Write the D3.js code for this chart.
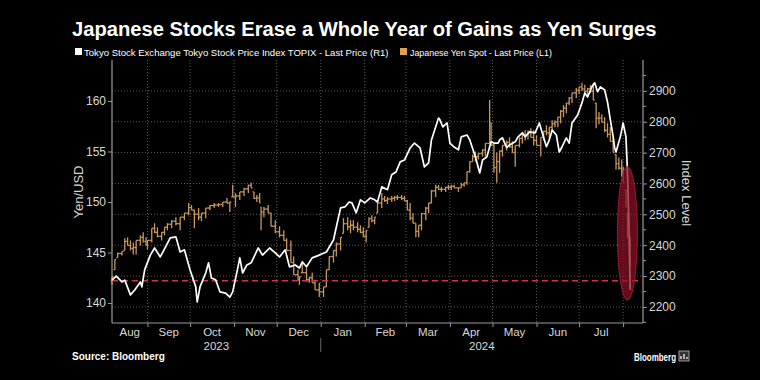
<!DOCTYPE html>
<html><head><meta charset="utf-8">
<script src="https://cdn.jsdelivr.net/npm/d3@7"></script>
<style>html,body{margin:0;padding:0;background:#000;}svg{display:block;}</style>
</head><body>
<svg id="c" width="760" height="380"></svg>
<script>
// ---------- DATA ----------
const titleText = "Japanese Stocks Erase a Whole Year of Gains as Yen Surges";
const legendLabels = ["Tokyo Stock Exchange Tokyo Stock Price Index TOPIX - Last Price (R1)", "Japanese Yen Spot - Last Price (L1)"];
const leftTicks = [140, 145, 150, 155, 160];
const rightTicks = [2200, 2300, 2400, 2500, 2600, 2700, 2800, 2900];
const monthLabels = ["Aug","Sep","Oct","Nov","Dec","Jan","Feb","Mar","Apr","May","Jun","Jul"];
const yearLabels = ["2023","2024"];
const xDomain = ["2023-08-07","2024-08-15"];
const referenceLevel = 2285; // TOPIX level a year earlier (dashed line)
const highlight = {date:"2024-08-04", low:2222, high:2655};

// TOPIX (right axis): [date, close]
const topix = [
["2023-08-07",2287],["2023-08-10",2300],["2023-08-14",2281],["2023-08-16",2287],["2023-08-20",2239],["2023-08-23",2255],
["2023-08-27",2281],["2023-08-28",2265],["2023-08-30",2320],["2023-09-03",2368],["2023-09-06",2391],["2023-09-10",2362],
["2023-09-13",2388],["2023-09-17",2424],["2023-09-21",2427],["2023-09-24",2378],["2023-09-27",2385],["2023-10-01",2320],
["2023-10-05",2265],["2023-10-06",2216],["2023-10-08",2265],["2023-10-12",2310],["2023-10-14",2343],["2023-10-16",2294],
["2023-10-19",2288],["2023-10-22",2249],["2023-10-26",2245],["2023-10-29",2232],["2023-10-31",2249],["2023-11-03",2313],
["2023-11-05",2359],["2023-11-07",2310],["2023-11-10",2336],["2023-11-13",2343],["2023-11-18",2391],["2023-11-21",2368],
["2023-11-26",2391],["2023-11-30",2375],["2023-12-03",2362],["2023-12-07",2385],["2023-12-10",2330],["2023-12-14",2336],
["2023-12-17",2326],["2023-12-19",2346],["2023-12-22",2330],["2023-12-26",2359],["2023-12-31",2368],["2024-01-05",2378],
["2024-01-10",2417],["2024-01-12",2459],["2024-01-15",2521],["2024-01-18",2524],["2024-01-21",2540],["2024-01-23",2537],
["2024-01-26",2505],["2024-01-29",2547],["2024-02-01",2537],["2024-02-05",2553],["2024-02-08",2547],["2024-02-10",2540],
["2024-02-13",2589],["2024-02-17",2580],["2024-02-20",2628],["2024-02-23",2637],["2024-02-26",2670],["2024-02-29",2676],
["2024-03-04",2715],["2024-03-07",2731],["2024-03-11",2715],["2024-03-14",2654],["2024-03-17",2667],["2024-03-19",2741],
["2024-03-24",2812],["2024-03-25",2806],["2024-03-27",2783],["2024-03-30",2796],["2024-04-01",2731],["2024-04-04",2718],
["2024-04-07",2709],["2024-04-09",2751],["2024-04-13",2757],["2024-04-15",2741],["2024-04-19",2686],["2024-04-22",2634],
["2024-04-24",2676],["2024-04-27",2686],["2024-04-30",2735],["2024-05-02",2731],["2024-05-05",2731],["2024-05-06",2741],
["2024-05-08",2748],["2024-05-11",2716],["2024-05-13",2725],["2024-05-17",2735],["2024-05-19",2751],["2024-05-22",2764],
["2024-05-24",2751],["2024-05-27",2767],["2024-05-31",2764],["2024-06-03",2796],["2024-06-05",2764],["2024-06-08",2719],
["2024-06-10",2741],["2024-06-12",2773],["2024-06-15",2757],["2024-06-17",2702],["2024-06-19",2719],["2024-06-22",2748],
["2024-06-24",2731],["2024-06-26",2796],["2024-06-30",2822],["2024-07-03",2861],["2024-07-05",2893],["2024-07-07",2880],
["2024-07-10",2913],["2024-07-12",2926],["2024-07-14",2897],["2024-07-16",2913],["2024-07-19",2903],["2024-07-21",2864],
["2024-07-23",2806],["2024-07-25",2751],["2024-07-26",2716],["2024-07-27",2702],["2024-07-30",2751],["2024-07-31",2773],
["2024-08-01",2796],["2024-08-03",2751],["2024-08-04",2644],["2024-08-05",2482],["2024-08-06",2255]
];

// USD/JPY (left axis): [date, low, high]
const yen = [
["2023-08-07",141.8,142.6],["2023-08-09",143.3,144.3],["2023-08-11",144.5,145.0],["2023-08-14",144.7,145.1],
["2023-08-16",145.2,146.4],["2023-08-18",145.7,146.5],["2023-08-20",145.2,146.2],["2023-08-22",144.8,146.0],
["2023-08-24",144.8,146.2],["2023-08-27",145.7,146.7],["2023-08-29",146.0,147.0],["2023-08-31",145.7,146.5],
["2023-09-01",145.3,146.2],["2023-09-04",146.0,147.4],["2023-09-06",146.9,147.9],["2023-09-08",146.5,147.5],
["2023-09-11",146.2,147.0],["2023-09-13",146.7,147.5],["2023-09-15",147.2,147.9],["2023-09-18",147.4,148.2],
["2023-09-21",147.7,148.5],["2023-09-24",147.2,148.5],["2023-09-27",148.2,148.9],["2023-09-30",148.7,149.9],
["2023-10-02",149.2,149.7],["2023-10-04",147.4,149.2],["2023-10-07",148.2,149.4],["2023-10-09",148.1,148.9],
["2023-10-12",148.4,149.4],["2023-10-15",149.2,149.7],["2023-10-18",149.4,149.9],["2023-10-21",149.5,149.9],
["2023-10-24",149.5,150.0],["2023-10-27",149.9,150.4],["2023-10-29",149.0,150.0],["2023-10-31",150.5,151.7],
["2023-11-02",149.5,150.9],["2023-11-05",150.2,151.0],["2023-11-08",150.6,151.4],["2023-11-11",150.9,151.7],
["2023-11-13",151.4,151.9],["2023-11-15",150.3,151.0],["2023-11-17",150.0,150.7],["2023-11-19",149.9,150.9],
["2023-11-20",147.2,149.5],["2023-11-22",148.5,149.5],["2023-11-25",148.9,149.7],["2023-11-27",147.6,148.9],
["2023-11-30",146.9,148.2],["2023-12-03",146.5,147.6],["2023-12-06",146.2,147.2],["2023-12-08",145.2,146.4],
["2023-12-11",144.0,146.2],["2023-12-13",142.8,144.6],["2023-12-16",142.3,143.3],["2023-12-17",141.8,142.6],
["2023-12-19",143.0,144.0],["2023-12-22",142.1,143.5],["2023-12-24",142.0,142.6],["2023-12-26",142.0,143.0],
["2023-12-28",141.3,142.3],["2023-12-31",140.6,142.0],["2024-01-03",140.6,141.6],["2024-01-05",141.6,143.3],
["2024-01-07",143.3,144.6],["2024-01-10",144.0,145.2],["2024-01-12",144.6,146.0],["2024-01-15",145.2,146.5],
["2024-01-17",146.9,148.4],["2024-01-20",147.2,148.5],["2024-01-22",146.9,148.2],["2024-01-24",147.2,148.2],
["2024-01-27",147.0,148.0],["2024-01-29",146.9,147.7],["2024-01-31",146.5,147.5],["2024-02-02",146.0,147.2],
["2024-02-04",147.5,148.5],["2024-02-06",148.0,148.7],["2024-02-08",147.8,148.5],["2024-02-10",148.9,149.9],
["2024-02-13",149.4,150.9],["2024-02-15",150.0,150.6],["2024-02-17",149.8,150.5],["2024-02-20",150.0,150.6],
["2024-02-22",150.1,150.6],["2024-02-24",150.2,150.7],["2024-02-27",150.2,150.7],["2024-02-29",150.1,150.6],
["2024-03-02",149.2,150.2],["2024-03-04",148.2,149.9],["2024-03-06",147.9,148.9],["2024-03-08",146.5,147.9],
["2024-03-10",146.5,147.7],["2024-03-12",147.2,148.9],["2024-03-15",148.2,149.5],["2024-03-17",148.9,149.9],
["2024-03-19",149.9,151.2],["2024-03-22",150.5,151.7],["2024-03-24",151.2,151.7],["2024-03-26",151.0,151.5],
["2024-03-29",151.0,151.5],["2024-03-31",151.2,151.7],["2024-04-02",151.2,151.7],["2024-04-04",151.4,151.7],
["2024-04-07",151.0,151.4],["2024-04-09",151.4,151.9],["2024-04-11",151.5,151.9],["2024-04-13",151.7,153.0],
["2024-04-15",152.9,154.0],["2024-04-17",154.0,154.7],["2024-04-19",154.0,155.0],["2024-04-21",154.2,154.8],
["2024-04-24",154.5,155.2],["2024-04-26",154.5,155.8],["2024-04-29",155.8,160.1],["2024-04-30",155.6,157.9],
["2024-05-02",152.9,155.8],["2024-05-04",151.9,154.9],["2024-05-06",152.9,155.1],["2024-05-08",154.5,155.6],
["2024-05-11",155.1,156.1],["2024-05-13",155.4,156.4],["2024-05-15",154.9,156.0],["2024-05-17",153.5,155.6],
["2024-05-20",155.4,156.4],["2024-05-22",155.8,156.8],["2024-05-24",156.1,157.1],["2024-05-26",156.2,157.1],
["2024-05-28",156.4,157.3],["2024-05-30",155.6,157.1],["2024-06-01",155.6,156.6],["2024-06-04",154.5,156.4],
["2024-06-06",156.1,157.0],["2024-06-08",156.6,157.6],["2024-06-10",156.3,157.4],["2024-06-12",157.0,158.1],
["2024-06-14",157.4,158.1],["2024-06-16",157.4,158.4],["2024-06-18",157.8,159.1],["2024-06-20",158.4,159.6],
["2024-06-22",158.8,159.8],["2024-06-24",159.6,160.4],["2024-06-26",159.8,160.8],["2024-06-29",160.3,161.3],
["2024-07-01",160.7,161.4],["2024-07-03",161.0,161.8],["2024-07-05",160.8,161.6],["2024-07-07",160.6,161.3],
["2024-07-09",160.8,161.6],["2024-07-11",160.1,161.8],["2024-07-13",157.3,159.8],["2024-07-15",157.7,158.9],
["2024-07-17",157.9,158.7],["2024-07-19",156.9,158.4],["2024-07-21",156.4,157.8],["2024-07-23",156.0,157.4],
["2024-07-25",154.9,156.4],["2024-07-27",153.2,154.7],["2024-07-29",153.2,154.4],["2024-07-31",152.5,154.2],
["2024-08-01",152.0,153.5],["2024-08-03",149.5,151.2],["2024-08-04",146.5,148.9],["2024-08-06",143.8,146.6]
];

// ---------- CHART ----------
const parse = d3.utcParse("%Y-%m-%d");
const W = 760, H = 380;
const m = {left:112, right:643, top:60, bottom:323};
const svg = d3.select("#c");
svg.append("rect").attr("width",W).attr("height",H).attr("fill","#000");

const x = d3.scaleUtc().domain(xDomain.map(parse)).range([m.left, m.right]);
const yL = d3.scaleLinear().domain([138.02, 164.06]).range([m.bottom, m.top]);
const yR = d3.scaleLinear().domain([2148, 3000]).range([m.bottom, m.top]);

const font = "'Liberation Sans', Arial, sans-serif";
const axisCol = "#9a9a9a", textCol = "#d8d8d8";

function fit(sel, w){
  const n = sel.node(); const L = n.getComputedTextLength();
  if (L > 0) { const fs = parseFloat(sel.attr("font-size")); sel.attr("font-size", fs * w / L); }
}

// title
const title = svg.append("text").attr("x",72).attr("y",36).attr("fill","#fff")
  .attr("font-family",font).attr("font-weight","bold").attr("font-size",21).text(titleText);
fit(title, 585);

// legend
svg.append("rect").attr("x",75).attr("y",48).attr("width",7).attr("height",7).attr("fill","#fff");
const l1 = svg.append("text").attr("x",84).attr("y",56).attr("fill","#fff").attr("font-family",font)
  .attr("font-size",11).text(legendLabels[0]);
fit(l1, 305);
svg.append("rect").attr("x",400).attr("y",48).attr("width",7).attr("height",7).attr("fill","#e0a050");
const l2 = svg.append("text").attr("x",410).attr("y",56).attr("fill","#fff").attr("font-family",font)
  .attr("font-size",11).text(legendLabels[1]);
fit(l2, 142);

// grid
const g = svg.append("g");
g.selectAll("line.hg").data(rightTicks).join("line")
  .attr("x1",m.left).attr("x2",m.right).attr("y1",d=>yR(d)).attr("y2",d=>yR(d))
  .attr("stroke","#5a5a5a").attr("stroke-width",1).attr("stroke-dasharray","1,2");
const monthStarts = d3.utcMonth.range(d3.utcMonth.ceil(x.domain()[0]), x.domain()[1]);
g.selectAll("line.vg").data(monthStarts).join("line")
  .attr("x1",d=>x(d)).attr("x2",d=>x(d)).attr("y1",m.top).attr("y2",m.bottom)
  .attr("stroke","#5a5a5a").attr("stroke-width",1).attr("stroke-dasharray","1,2");

// axes
const axL = svg.append("g").attr("transform",`translate(${m.left},0)`)
  .call(d3.axisLeft(yL).tickValues(leftTicks).tickSize(4).tickPadding(2));
const axR = svg.append("g").attr("transform",`translate(${m.right},0)`)
  .call(d3.axisRight(yR).tickValues(rightTicks).tickSize(4).tickPadding(2).tickFormat(d3.format("d")));
const minorR = d3.range(2150, 2960, 100);
svg.append("g").selectAll("line").data(minorR).join("line")
  .attr("x1",m.right).attr("x2",m.right+3).attr("y1",d=>yR(d)).attr("y2",d=>yR(d)).attr("stroke",axisCol);
const axB = svg.append("g").attr("transform",`translate(0,${m.bottom})`)
  .call(d3.axisBottom(x).tickValues(monthStarts).tickSize(4).tickFormat(""));
[axL, axR, axB].forEach(a=>{
  a.select(".domain").attr("stroke",axisCol).attr("stroke-width",1.2);
  a.selectAll(".tick line").attr("stroke",axisCol);
  a.selectAll("text").attr("fill",textCol).attr("font-family",font).attr("font-size",12);
});
axL.select(".domain").attr("d",`M0,${m.top}V${m.bottom}`);
axR.select(".domain").attr("d",`M0,${m.top}V${m.bottom}`);
axB.select(".domain").attr("d",`M${m.left},0H${m.right}`);

// month labels centred in their interval
const bounds = [x.domain()[0], ...monthStarts];
const mlab = svg.append("g");
monthLabels.forEach((lab,i)=>{
  const a = x(bounds[i]), b = x(bounds[i+1]);
  mlab.append("text").attr("x",(a+b)/2).attr("y",336).attr("text-anchor","middle")
    .attr("fill",textCol).attr("font-family",font).attr("font-size",11.5).text(lab);
});
const jan1 = parse("2024-01-01");
svg.append("text").attr("x",(m.left + x(jan1))/2).attr("y",350).attr("text-anchor","middle")
  .attr("fill",textCol).attr("font-family",font).attr("font-size",11.5).text(yearLabels[0]);
svg.append("text").attr("x",(x(jan1) + m.right)/2).attr("y",350).attr("text-anchor","middle")
  .attr("fill",textCol).attr("font-family",font).attr("font-size",11.5).text(yearLabels[1]);
svg.append("line").attr("x1",x(jan1)).attr("x2",x(jan1)).attr("y1",338).attr("y2",352).attr("stroke","#666");

// axis titles
svg.append("text").attr("transform","translate(83,192) rotate(-90)").attr("text-anchor","middle")
  .attr("fill",textCol).attr("font-family",font).attr("font-size",13).text("Yen/USD");
svg.append("text").attr("transform","translate(682,193) rotate(90)").attr("text-anchor","middle")
  .attr("fill",textCol).attr("font-family",font).attr("font-size",13).text("Index Level");

// yen OHLC-style bars
const yd = yen.map(d=>({date:parse(d[0]), low:d[1], high:d[2]}));
const yg = svg.append("g").attr("stroke","#c9975c").attr("stroke-width",1.3).attr("fill","none");
let prevClose = null;
yd.forEach((d,i)=>{
  const xi = x(d.date);
  const xp = i>0 ? x(yd[i-1].date) : xi-3;
  const xn = i<yd.length-1 ? x(yd[i+1].date) : xi+2;
  const lh = Math.min((xi-xp)/2, 3), rh = Math.min((xn-xi)/2, 3);
  const clamp = v=>Math.max(d.low, Math.min(d.high, v));
  const open = prevClose==null ? (d.low+d.high)/2 : clamp(prevClose);
  const next = i<yd.length-1 ? (yd[i+1].low+yd[i+1].high)/2 : d.low;
  const close = clamp(next);
  yg.append("line").attr("x1",xi).attr("x2",xi).attr("y1",yL(d.low)).attr("y2",yL(d.high));
  yg.append("line").attr("x1",xi-lh).attr("x2",xi).attr("y1",yL(open)).attr("y2",yL(open));
  yg.append("line").attr("x1",xi).attr("x2",xi+rh).attr("y1",yL(close)).attr("y2",yL(close));
  prevClose = close;
});

// reference dashed line
svg.append("line").attr("x1",m.left).attr("x2",m.right).attr("y1",yR(referenceLevel)).attr("y2",yR(referenceLevel))
  .attr("stroke","#d0324c").attr("stroke-width",1.5).attr("stroke-dasharray","6,4");

// TOPIX line
const td = topix.map(d=>({date:parse(d[0]), v:d[1]}));
svg.append("path").datum(td).attr("fill","none").attr("stroke","#fff").attr("stroke-width",1.7)
  .attr("stroke-linejoin","round")
  .attr("d", d3.line().x(d=>x(d.date)).y(d=>yR(d.v)));

// highlight ellipse
const cy = (yR(highlight.low)+yR(highlight.high))/2, ry = (yR(highlight.low)-yR(highlight.high))/2;
svg.append("ellipse").attr("cx",x(parse(highlight.date))).attr("cy",cy).attr("rx",10).attr("ry",ry)
  .attr("fill","#8c1027").attr("fill-opacity",0.72).attr("stroke","#a3182f").attr("stroke-width",1);

// footer
svg.append("text").attr("x",72).attr("y",360).attr("fill","#fff").attr("font-family",font)
  .attr("font-weight","bold").attr("font-size",10).text("Source: Bloomberg");
svg.append("text").attr("x",634).attr("y",361).attr("fill","#fff").attr("font-family",font)
  .attr("font-weight","bold").attr("font-size",11.5).attr("textLength",42).attr("lengthAdjust","spacingAndGlyphs").text("Bloomberg");
const icon = svg.append("g").attr("transform","translate(679,351)");
icon.append("rect").attr("width",10).attr("height",10).attr("fill","#333").attr("stroke","#bbb").attr("stroke-width",0.8);
icon.append("path").attr("d","M2,8V5M5,8V3M8,8V6").attr("stroke","#fff").attr("stroke-width",1.2);
</script>
</body></html>
